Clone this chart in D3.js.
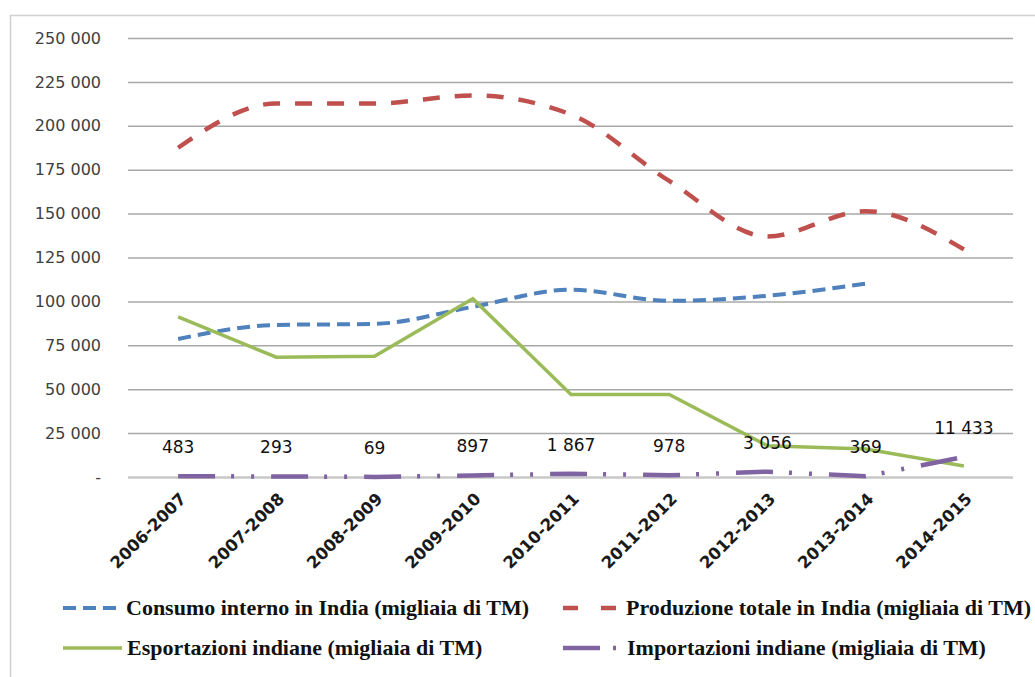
<!DOCTYPE html>
<html>
<head>
<meta charset="utf-8">
<script src="https://cdn.jsdelivr.net/npm/d3@7"></script>
<style>
  body { margin: 0; background: #fff; }
  svg { display: block; }
</style>
</head>
<body>
<div id="container"></div>
<script>
// data
const years = ["2006-2007", "2007-2008", "2008-2009", "2009-2010", "2010-2011",
               "2011-2012", "2012-2013", "2013-2014", "2014-2015"]
const consumo = [78600, 86600, 87200, 96900, 106700, 100300, 103200, 110100, null]
const produzione = [187500, 212700, 212700, 217300, 206400, 168600, 137000, 151400, 129600]
const esportazioni = [91200, 68200, 68800, 101500, 47000, 47000, 17800, 16000, 6300]
const importazioni = [483, 293, 69, 897, 1867, 978, 3056, 369, 11433]
const yTicks = [0, 25000, 50000, 75000, 100000, 125000, 150000, 175000, 200000, 225000, 250000]

const W = 1035, H = 677
const margin = {top: 38, right: 22, bottom: 203, left: 129}

const svg = d3.select("#container").append("svg")
  .attr("width", W).attr("height", H)

// outer frame
svg.append("rect")
  .attr("x", 10.5).attr("y", 15.5)
  .attr("width", 1100).attr("height", 800)
  .attr("fill", "none").attr("stroke", "#d0d0d0").attr("stroke-width", 1.5)

const xScale = d3.scaleBand().domain(years).range([margin.left, W - margin.right])
const cx = d => xScale(d) + xScale.bandwidth() / 2
const yScale = d3.scaleLinear().domain([0, 250000]).range([H - margin.bottom + 3, margin.top])

const fmt = v => v === 0 ? "-" : d3.format(",")(v).replace(/,/g, " ")

// y axis with gridlines
const yAxis = svg.append("g")
  .attr("transform", `translate(${margin.left - 1},0)`)
  .call(d3.axisLeft(yScale).tickValues(yTicks).tickSize(-(W - margin.right - margin.left + 1)).tickPadding(27).tickFormat(fmt))
yAxis.select(".domain").remove()
yAxis.selectAll(".tick line").attr("stroke", "#a8a8a8").attr("stroke-width", 1.5)
yAxis.selectAll(".tick text")
  .attr("fill", "#404040")
  .style("font-family", "DejaVu Sans")
  .style("font-size", "16px")
yAxis.selectAll(".tick").filter(d => d === 0).select("line")
  .attr("stroke", "#c8c8c8").attr("stroke-width", 2.5)

// x axis labels
const xAxis = svg.append("g")
  .attr("transform", `translate(0,${yScale(0)})`)
  .call(d3.axisBottom(xScale).tickSize(0).tickPadding(0))
xAxis.select(".domain").remove()
xAxis.selectAll(".tick text")
  .attr("text-anchor", "end")
  .attr("dy", 0).attr("y", 0)
  .attr("transform", "translate(9,23) rotate(-45)")
  .attr("fill", "#1a1a1a")
  .style("font-family", "DejaVu Sans")
  .style("font-weight", "bold")
  .style("font-size", "16.5px")

const series = [
  {name: "Consumo interno in India (migliaia di TM)", values: consumo, color: "#4f81bd", dash: "13,7", width: 4, curve: d3.curveMonotoneX},
  {name: "Produzione totale in India (migliaia di TM)", values: produzione, color: "#c0504d", dash: "17,15", width: 4.5, curve: d3.curveMonotoneX},
  {name: "Esportazioni indiane (migliaia di TM)", values: esportazioni, color: "#9bbb59", dash: null, width: 3.5, curve: d3.curveLinear},
  {name: "Importazioni indiane (migliaia di TM)", values: importazioni, color: "#8064a2", dash: "37,16,3,17,3,17", width: 4.5, curve: d3.curveLinear}
]

series.forEach(s => {
  const line = d3.line()
    .defined(d => d != null)
    .x((d, i) => cx(years[i]))
    .y(d => yScale(d))
    .curve(s.curve)
  svg.append("path")
    .datum(s.values)
    .attr("fill", "none")
    .attr("stroke", s.color)
    .attr("stroke-width", s.width)
    .attr("stroke-dasharray", s.dash)
    .attr("d", line)
})

// data labels for imports
svg.append("g").selectAll("text")
  .data(importazioni)
  .join("text")
  .attr("x", (d, i) => cx(years[i]))
  .attr("y", d => yScale(d) - 23)
  .attr("text-anchor", "middle")
  .attr("fill", "#111")
  .style("font-family", "DejaVu Sans")
  .style("font-size", "17px")
  .text(d => fmt(d))

// legend
const legendPos = [
  {x: 63, y: 608, len: 53},
  {x: 563, y: 608, len: 53},
  {x: 63, y: 648, len: 59},
  {x: 563, y: 648, len: 53}
]
const legend = svg.append("g")
series.forEach((s, i) => {
  const p = legendPos[i]
  legend.append("line")
    .attr("x1", p.x).attr("x2", p.x + p.len)
    .attr("y1", p.y).attr("y2", p.y)
    .attr("stroke", s.color)
    .attr("stroke-width", s.width)
    .attr("stroke-dasharray", i === 3 ? "37,13,3,100" : (i === 0 ? "13,7" : (i === 1 ? "15,23" : null)))
  legend.append("text")
    .attr("x", p.x + p.len + (i === 3 ? 11 : (i === 2 ? 5 : 10)))
    .attr("y", p.y + 7)
    .attr("fill", "#111")
    .style("font-family", "Liberation Serif")
    .style("font-weight", "bold")
    .style("font-size", "22px")
    .text(s.name)
})
</script>
</body>
</html>
